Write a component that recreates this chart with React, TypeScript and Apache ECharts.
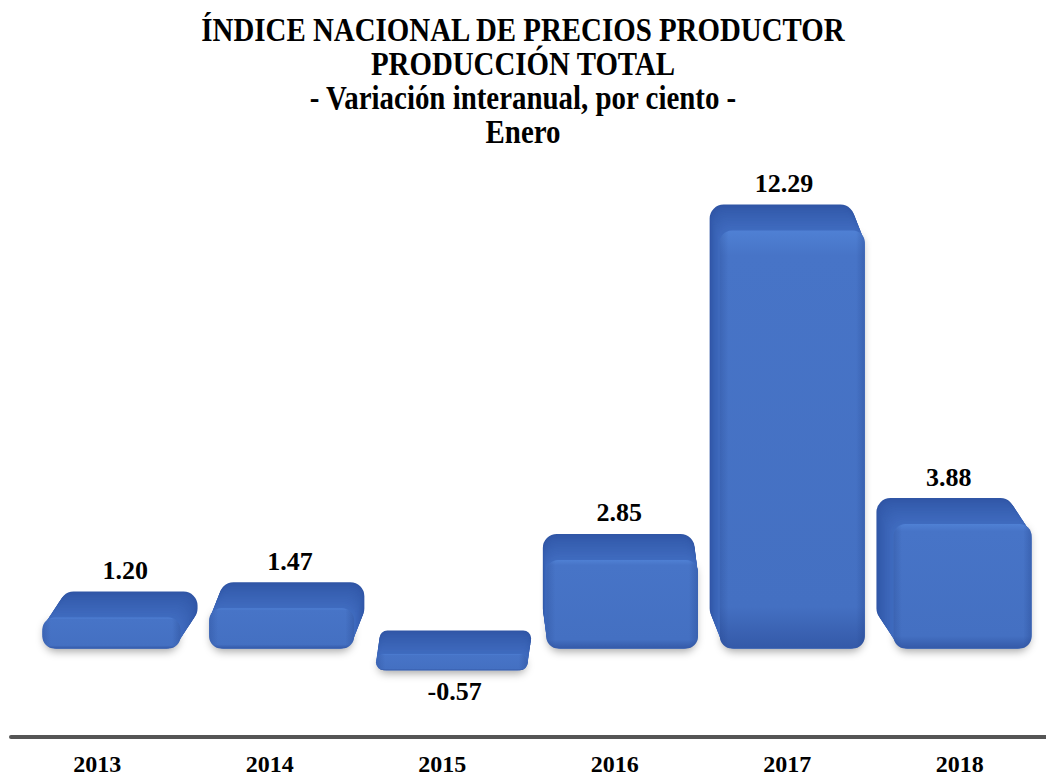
import React, { useEffect, useRef } from "react";
import * as echarts from "echarts";

const years = ["2013", "2014", "2015", "2016", "2017", "2018"];
const values = [1.2, 1.47, -0.57, 2.85, 12.29, 3.88];
const titleLines = [
  "ÍNDICE NACIONAL DE PRECIOS PRODUCTOR",
  "PRODUCCIÓN TOTAL",
  "- Variación interanual, por ciento -",
  "Enero",
];

const SERIF = "'Liberation Serif', 'Times New Roman', serif";

function mix(a: number[], b: number[], t: number) {
  const c = a.map((v, i) => Math.round(v + (b[i] - v) * t));
  return `rgb(${c[0]},${c[1]},${c[2]})`;
}

export default function App() {
  const ref = useRef<HTMLDivElement>(null);
  useEffect(() => {
    if (!ref.current) return;
    const chart = echarts.init(ref.current, undefined, { renderer: "svg" });

    const renderItem = (params: any, api: any) => {
      const idx = api.value(0);
      const v = api.value(1);
      const [cx, yv] = api.coord([idx, v]);
      const [, y0] = api.coord([idx, 0]);
      const band = api.size([1, 0])[0];
      const w = band * 0.93;
      const dx = -(cx - 537) * 0.041;
      let top: number, bottom: number;
      if (v >= 0) {
        top = yv - 3;
        bottom = y0 + 12;
      } else {
        top = y0 - 6;
        bottom = yv + 14;
      }
      const depth = Math.min(26, (bottom - top) * 0.6);
      const L = cx - w / 2;
      const R = cx + w / 2;
      const fx0 = L + Math.max(0, -dx);
      const fx1 = R - Math.max(0, dx);
      const fw = fx1 - fx0;
      const fTop = top + depth;
      const fH = bottom - fTop;
      const children: any[] = [];
      children.push({
        type: "rect",
        shape: { x: fx0 + 2, y: fTop, width: fw - 4, height: fH, r: 12 },
        style: {
          fill: "#3b63b0",
          shadowBlur: 8,
          shadowOffsetY: 3,
          shadowColor: "rgba(0,0,0,0.35)",
        },
      });
      const N = 16;
      const dark = [48, 86, 166];
      const mid = [64, 108, 192];
      for (let i = 0; i <= N; i++) {
        const t = i / N;
        const ox = dx * (1 - t);
        const oy = -depth * (1 - t);
        children.push({
          type: "rect",
          shape: { x: fx0 + ox, y: fTop + oy, width: fw, height: fH, r: 14 },
          style: { fill: mix(dark, mid, Math.pow(t, 0.8)) },
        });
      }
      children.push({
        type: "rect",
        shape: { x: fx0, y: fTop, width: fw, height: fH, r: 12 },
        style: {
          fill: new echarts.graphic.LinearGradient(0, 0, 0, 1, [
            { offset: 0, color: "#4f80d4" },
            { offset: 0.06, color: "#4774c7" },
            { offset: 0.9, color: "#4470c2" },
            { offset: 1, color: "#3459a8" },
          ]),
        },
      });
      children.push({
        type: "rect",
        shape: { x: fx0, y: fTop, width: fw, height: fH, r: 12 },
        style: {
          fill: new echarts.graphic.LinearGradient(0, 0, 1, 0, [
            { offset: 0, color: "rgba(30,60,130,0.25)" },
            { offset: 0.06, color: "rgba(30,60,130,0)" },
            { offset: 0.94, color: "rgba(30,60,130,0)" },
            { offset: 1, color: "rgba(30,60,130,0.3)" },
          ]),
        },
      });
      const ly = v >= 0 ? top - 21 : bottom + 21;
      children.push({
        type: "text",
        x: cx + dx * 0.3,
        y: ly,
        style: {
          text: v.toFixed(2),
          fill: "#000",
          font: `bold 26px ${SERIF}`,
          align: "center",
          verticalAlign: "middle",
        },
      });
      return { type: "group", children };
    };

    chart.setOption({
      animation: false,
      backgroundColor: "#ffffff",
      graphic: titleLines.map((t, i) => ({
        type: "text",
        x: 523,
        y: 30 + i * 34,
        scaleX: 0.85,
        style: {
          text: t,
          fill: "#000",
          font: `bold 34px ${SERIF}`,
          align: "center",
          verticalAlign: "middle",
        },
      })),
      grid: [
        { left: 36.6, width: 1000.8, top: 113, height: 664 },
        { left: 11, width: 1044, top: 736, height: 2 },
      ],
      xAxis: [
        { type: "category", data: years, gridIndex: 0, show: false },
        {
          type: "category",
          data: years,
          gridIndex: 1,
          position: "bottom",
          axisLine: {
            show: true,
            onZero: false,
            lineStyle: { color: "#555555", width: 4 },
          },
          axisTick: { show: false },
          axisLabel: {
            margin: 15,
            fontFamily: SERIF,
            fontWeight: "bold",
            fontSize: 24,
            color: "#000",
          },
        },
      ],
      yAxis: [
        { type: "value", gridIndex: 0, min: -4, max: 15, show: false, splitLine: { show: false } },
        { type: "value", gridIndex: 1, min: 0, max: 1, show: false, splitLine: { show: false } },
      ],
      series: [
        {
          type: "custom",
          xAxisIndex: 0,
          yAxisIndex: 0,
          renderItem,
          data: values.map((v, i) => [i, v]),
        },
      ],
    });
    return () => chart.dispose();
  }, []);
  return (
    <div
      ref={ref}
      style={{ position: "absolute", left: 0, top: 0, width: 1046, height: 776 }}
    />
  );
}
